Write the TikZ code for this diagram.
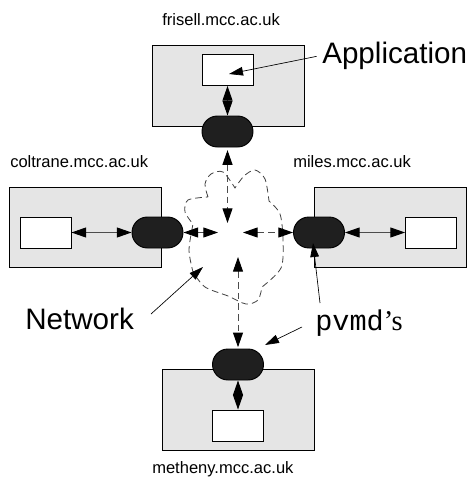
\documentclass[tikz,border=0pt]{standalone}
\usepackage{fontspec}
\setmainfont{Liberation Sans}
\newfontfamily\pvmdfont{Liberation Mono}
\newfontfamily\pvmserif{Liberation Serif}
\usetikzlibrary{arrows.meta}
\tikzset{
  pvmhost/.style={rectangle, draw, line width=0.7pt, fill=gray!20, minimum width=114pt, minimum height=60.5pt, inner sep=0pt},
  pvmapp/.style={rectangle, draw, line width=0.7pt, fill=white, minimum width=38.25pt, minimum height=23.25pt, inner sep=0pt},
  pvmdaemon/.style={rectangle, rounded corners=11.6pt, draw, line width=0.7pt, fill=black!88, minimum width=38.25pt, minimum height=23.25pt, inner sep=0pt},
  pvmhostlabel/.style={anchor=base west, inner sep=0pt, font=\fontsize{12.4}{15}\selectfont},
  pvmbig/.style={anchor=base west, inner sep=0pt, font=\fontsize{22.2}{26}\selectfont},
  pvmarrow/.style={{Triangle[length=11pt, width=7.5pt, color=black]}-{Triangle[length=11pt, width=7.5pt, color=black]}, line width=0.7pt, draw=black!70},
  pvmnet/.style={pvmarrow, dash pattern=on 5pt off 3pt},
  pvmptr/.style={-{Triangle[length=10.5pt, width=6.5pt]}, line width=0.5pt},
  pvmcloud/.style={line width=0.6pt, draw=black!75, dash pattern=on 5pt off 3pt},
}
\begin{document}
\begin{tikzpicture}[x=0.75pt, y=-0.75pt]
  \useasboundingbox (0,0) rectangle (468,485);

  % Hosts.
  \node[pvmhost] (frisell) at (228,86) {};
  \node[pvmhost] (coltrane) at (85.5,227.5) {};
  \node[pvmhost] (miles) at (390,227.5) {};
  \node[pvmhost] (metheny) at (238,410) {};

  \node[pvmhostlabel] (frisell_lbl) at (162,26) {frisell.mcc.ac.uk};
  \node[pvmhostlabel] (coltrane_lbl) at (10,167) {coltrane.mcc.ac.uk};
  \node[pvmhostlabel] (miles_lbl) at (293,167) {miles.mcc.ac.uk};
  \node[pvmhostlabel] (metheny_lbl) at (152,473) {metheny.mcc.ac.uk};

  % Applications and daemons.
  \node[pvmapp] (app_n) at (227.5,70) {};
  \node[pvmdaemon] (pvmd_n) at (227.5,131.5) {};
  \node[pvmapp] (app_w) at (45.5,232.5) {};
  \node[pvmdaemon] (pvmd_w) at (157.5,232.5) {};
  \node[pvmapp] (app_e) at (431,232.5) {};
  \node[pvmdaemon] (pvmd_e) at (319,232.5) {};
  \node[pvmdaemon] (pvmd_s) at (238,364.5) {};
  \node[pvmapp] (app_s) at (238,425.5) {};

  \draw[pvmarrow] (app_n) -- (pvmd_n);
  \draw[pvmarrow] (app_w) -- (pvmd_w);
  \draw[pvmarrow] (pvmd_e) -- (app_e);
  \draw[pvmarrow] (pvmd_s) -- (app_s);

  % Network.
  \draw[pvmcloud]
    plot[smooth] coordinates {(208,197) (205,184) (211,174) (223,172) (235,188)}
    -- plot[smooth] coordinates {(235,188) (244,176) (255,170) (265,179) (269,201)}
    -- plot[smooth] coordinates {(269,201) (280,214) (283,240) (281,268) (262,287)}
    -- plot[smooth] coordinates {(262,287) (258,300) (246,304) (228,296) (205,287) (193,272)}
    -- plot[smooth] coordinates {(193,272) (189,250) (193,224)}
    -- plot[smooth] coordinates {(193,224) (185,212) (188,200) (208,197)} -- cycle;

  \coordinate (hub_n) at (227.5,223);
  \coordinate (hub_w) at (218,232.5);
  \coordinate (hub_e) at (243,232.5);
  \coordinate (hub_s) at (238,257);

  \draw[pvmnet, shorten <=2pt] (pvmd_n) -- (hub_n);
  \draw[pvmnet] (pvmd_w) -- (hub_w);
  \draw[pvmnet] (hub_e) -- (pvmd_e);
  \draw[pvmnet, shorten >=1pt] (hub_s) -- (pvmd_s);

  % Labels.
  \node[pvmbig] (app_lbl) at (322,64) {Application};
  \node[pvmbig] (net_lbl) at (25,329) {Network};
  \node[anchor=base west, inner sep=0pt, font=\fontsize{21.4}{26}\selectfont] (pvmd_lbl) at (315,330) {{\pvmdfont pvmd}{\pvmserif ’s}};

  \coordinate (app_tip) at (229,74);
  \coordinate (net_tail) at (151,314);
  \coordinate (net_tip) at (203,267);
  \coordinate (pv_tail_e) at (320,303);
  \coordinate (pv_tip_e) at (313,243);
  \coordinate (pv_tail_s) at (302,327);
  \coordinate (pv_tip_s) at (265,345);

  \draw[pvmptr] ([xshift=-4pt]app_lbl.west) -- (app_tip);
  \draw[pvmptr] (net_tail) -- (net_tip);
  \draw[pvmptr] (pv_tail_e) -- (pv_tip_e);
  \draw[pvmptr] (pv_tail_s) -- (pv_tip_s);
\end{tikzpicture}
\end{document}
